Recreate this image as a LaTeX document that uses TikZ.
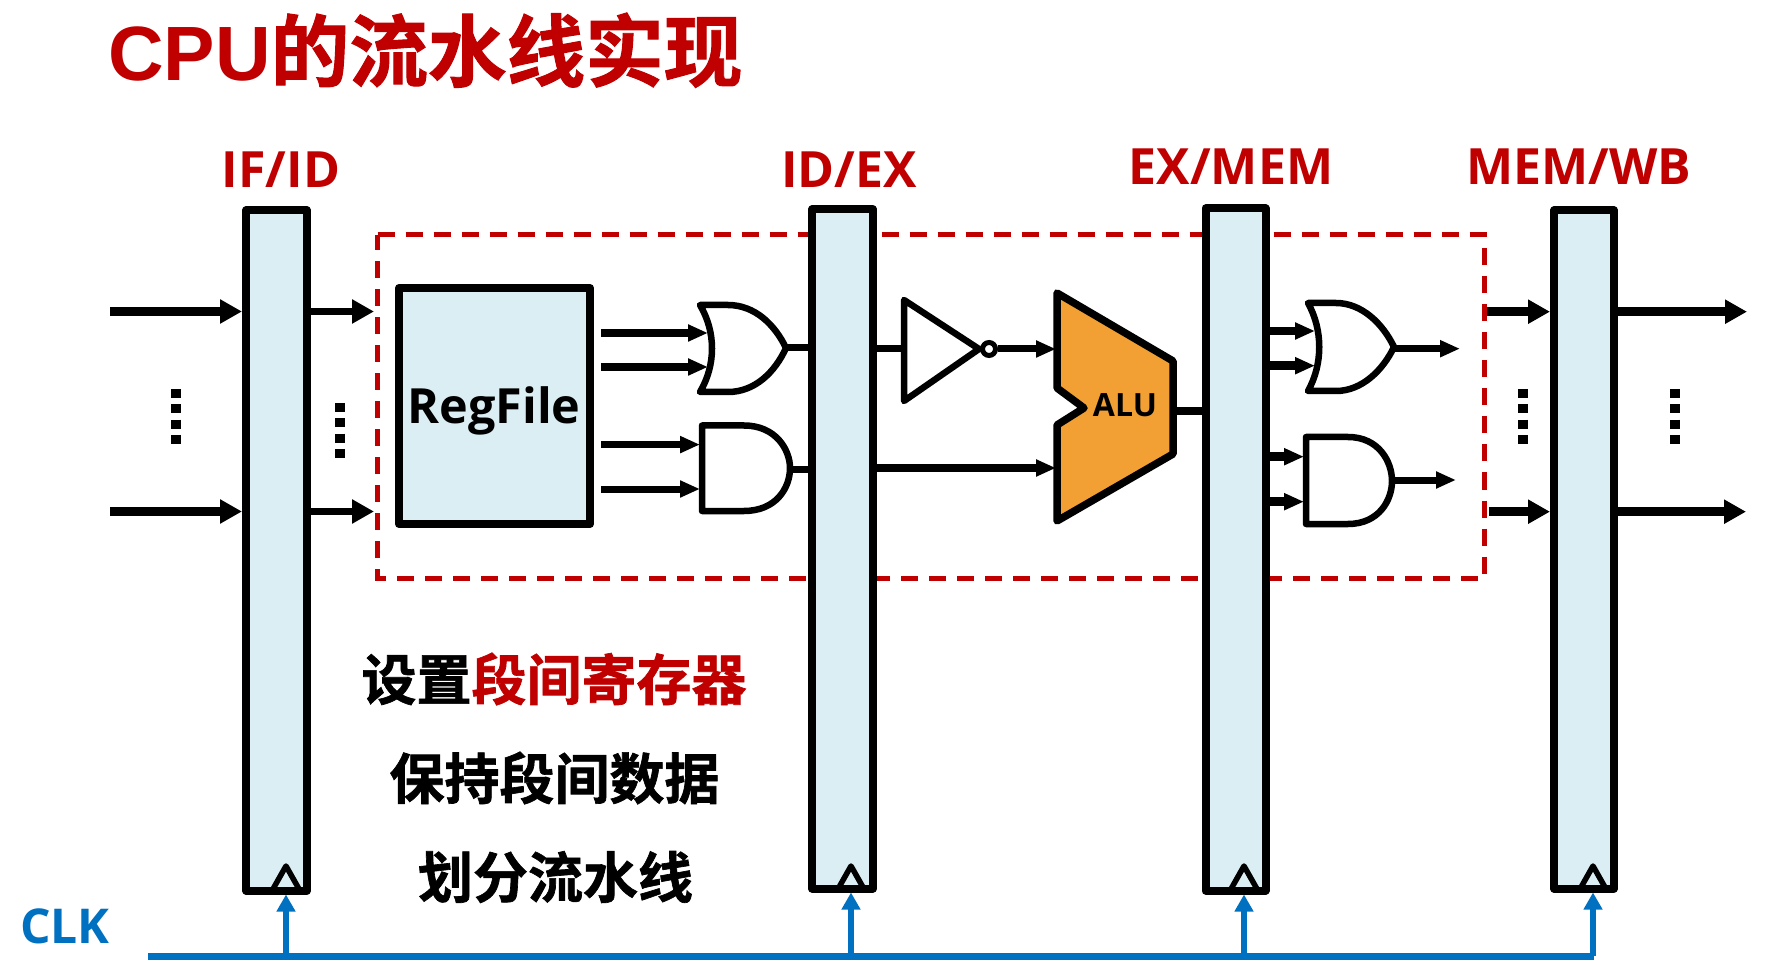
\documentclass[tikz,border=0pt]{standalone}
\usepackage{fontspec}
\usetikzlibrary{arrows.meta,calc}
\setmainfont{Liberation Sans}
\newfontfamily\cjkb[UprightFont=* Bold,FakeBold=1.2]{Noto Sans CJK SC}
\newfontfamily\lat[UprightFont=* Bold]{Open Sans}
\newfontfamily\arialb[UprightFont=* Bold]{Liberation Sans}
\definecolor{pred}{HTML}{C00000}
\definecolor{pblue}{HTML}{0070C0}
\definecolor{plight}{HTML}{DAEEF3}
\definecolor{porange}{HTML}{F2A033}
\tikzset{
  x=1pt,y=-1pt,
  reg/.style={draw=black,fill=plight,line width=8pt,rectangle,inner sep=0pt,line join=round},
  gate/.style={draw=black,line width=6.5pt,line join=round},
  bigarrow/.style={draw=black,line width=9pt,-{Triangle[length=22pt,width=23pt]}},
  midarrow/.style={draw=black,line width=7pt,-{Triangle[length=22pt,width=23pt]}},
  smallarrow/.style={draw=black,line width=8pt,-{Triangle[length=20pt,width=16pt]}},
  stub/.style={draw=black,line width=7pt},
  clkarrow/.style={draw=pblue,line width=6pt,-{Triangle[length=17pt,width=18pt]}},
  clktri/.style={draw=black,line width=5.5pt,line join=round},
  dotcol/.style={draw=black,line width=10pt,dash pattern=on 9pt off 6.3pt},
  lab/.style={font=\lat\fontsize{50}{50}\selectfont,text=pred,anchor=base,inner sep=0pt},
  cjkt/.style={font=\cjkb\fontsize{55}{55}\selectfont,inner sep=0pt,text=black},
}
\begin{document}
\begin{tikzpicture}
\useasboundingbox (0,0) rectangle (1765,965);
% title
\node[anchor=base west,inner sep=0pt,text=pred] (title) at (108,80.5)
  {\fontsize{77}{77}\selectfont\arialb CPU\cjkb\fontsize{78.6}{78.6}\selectfont 的流水线实现};
% dashed stage box
\draw[pred,line width=5pt,dash pattern=on 17pt off 11pt] (377.5,235) -- (1484,235) -- (1484,578) -- (377.5,578) -- cycle;
% registers
\node[reg,minimum width=61pt,minimum height=680pt] (ifid) at (276.5,550.5) {};
\node[reg,minimum width=60.5pt,minimum height=679pt] (idex) at (842.5,549) {};
\node[reg,minimum width=60pt,minimum height=682pt] (exmem) at (1235.5,549.5) {};
\node[reg,minimum width=60pt,minimum height=678pt] (memwb) at (1584,549.5) {};
% register labels
\node[lab] (l1) at (281,187.5) {IF/ID};
\node[lab] (l2) at (849,187.5) {ID/EX};
\node[lab] (l3) at (1231,185) {EX/MEM};
\node[lab] (l4) at (1579,185) {MEM/WB};
% free ends, first stage
\coordinate (in1) at (110,311.5);
\coordinate (in2) at (110,511.5);
\coordinate (o1) at (374,311.5);
\coordinate (o2) at (374,511.5);
\draw[bigarrow] (in1) -- (ifid.west |- in1);
\draw[bigarrow] (in2) -- (ifid.west |- in2);
\draw[midarrow] (ifid.east |- o1) -- (o1);
\draw[midarrow] (ifid.east |- o2) -- (o2);
% dots
\coordinate (d1a) at (176,389); \coordinate (d1b) at (176,444);
\coordinate (d2a) at (340,403); \coordinate (d2b) at (340,459);
\coordinate (d3a) at (1523,389); \coordinate (d3b) at (1523,444);
\coordinate (d4a) at (1675,389); \coordinate (d4b) at (1675,444);
\draw[dotcol] (d1a) -- (d1b);
\draw[dotcol] (d2a) -- (d2b);
\draw[dotcol] (d3a) -- (d3b);
\draw[dotcol] (d4a) -- (d4b);
% regfile
\node[reg,minimum width=191pt,minimum height=236pt] (rf) at (494.5,406) {};
\node[inner sep=0pt,anchor=base,font=\lat\fontsize{48.5}{48.5}\selectfont] (rft) at (494,423.5) {RegFile};
% OR gate 1
\draw[gate] (700,305) -- (728,305) .. controls (755,305) and (775,325) .. (786,348)
  .. controls (775,372) and (755,392) .. (728,392) -- (700,392) .. controls (716,365) and (716,332) .. (700,305) -- cycle;
% AND gate 1
\draw[gate] (702,425.5) -- (744,425.5) .. controls (776,425.5) and (790,450) .. (790,468)
  .. controls (790,488) and (776,511) .. (744,511) -- (702,511) -- cycle;
\coordinate (g1o) at (786,348);
\coordinate (g2o) at (790,469.5);
\draw[stub] (g1o) -- (idex.west |- g1o);
\draw[stub] (g2o) -- (idex.west |- g2o);
\coordinate (a1s) at (601,333); \coordinate (a1e) at (708,333);
\coordinate (a2s) at (601,367); \coordinate (a2e) at (708,367);
\coordinate (a3s) at (601,444.6); \coordinate (a3e) at (700,444.6);
\coordinate (a4s) at (601,489); \coordinate (a4e) at (700,489);
\draw[smallarrow] (a1s) -- (a1e);
\draw[smallarrow] (a2s) -- (a2e);
\draw[smallarrow,line width=7pt] (a3s) -- (a3e);
\draw[smallarrow,line width=7pt] (a4s) -- (a4e);
% inverter
\draw[gate] (904,300) -- (979,349) -- (904,401) -- cycle;
\node[circle,draw=black,line width=5pt,minimum size=13pt,inner sep=0pt,fill=white] (bub) at (989,349) {};
\coordinate (invin) at (904,349);
\draw[stub] (idex.east |- invin) -- (invin);
% ALU
\draw[draw=black,fill=porange,line width=7.5pt,line join=round]
  (1057,293) -- (1173,361) -- (1173,454) -- (1057,521) -- (1057,425) -- (1084,408) -- (1057,388) -- cycle;
\node[inner sep=0pt,anchor=base,font=\lat\fontsize{32}{32}\selectfont] (alut) at (1125,417) {ALU};
\coordinate (aluin1) at (1056,349);
\coordinate (aluin2) at (1056,468);
\coordinate (aluout) at (1173,411);
\draw[smallarrow,line width=7pt] (bub.east |- aluin1) -- (aluin1);
\draw[smallarrow] (idex.east |- aluin2) -- (aluin2);
\draw[draw=black,line width=8pt] (aluout) -- (exmem.west |- aluout);
% OR gate 2
\draw[gate] (1308,303) -- (1336,303) .. controls (1362,303) and (1383,324) .. (1394,347)
  .. controls (1383,370) and (1362,391) .. (1336,391) -- (1308,391) .. controls (1323,364) and (1323,330) .. (1308,303) -- cycle;
% AND gate 2
\draw[gate] (1306,437) -- (1348,437) .. controls (1379,437) and (1392,462) .. (1392,481)
  .. controls (1392,500) and (1379,524) .. (1348,524) -- (1306,524) -- cycle;
\coordinate (b1) at (1315,331);
\coordinate (b2) at (1315,365.7);
\coordinate (b3) at (1304,456.7);
\coordinate (b4) at (1304,501.7);
\draw[smallarrow,line width=8.5pt] (exmem.east |- b1) -- (b1);
\draw[smallarrow,line width=8.5pt] (exmem.east |- b2) -- (b2);
\draw[smallarrow,line width=8.5pt] (exmem.east |- b3) -- (b3);
\draw[smallarrow,line width=8.5pt] (exmem.east |- b4) -- (b4);
\coordinate (g3s) at (1394,348.7); \coordinate (g3e) at (1460,348.7);
\coordinate (g4s) at (1392,480); \coordinate (g4e) at (1456,480);
\draw[smallarrow,line width=7pt] (g3s) -- (g3e);
\draw[smallarrow,line width=7pt] (g4s) -- (g4e);
% last stage
\coordinate (m1) at (1487,311.7);
\coordinate (m2) at (1489,511.7);
\coordinate (w1) at (1747,311.7);
\coordinate (w2) at (1746,511.7);
\draw[bigarrow] (m1) -- (memwb.west |- m1);
\draw[bigarrow] (m2) -- (memwb.west |- m2);
\draw[bigarrow,line width=9.5pt] (memwb.east |- w1) -- (w1);
\draw[bigarrow,line width=9.5pt] (memwb.east |- w2) -- (w2);
% captions
\node[cjkt] (c1) at (554,679) {设置\textcolor{pred}{段间寄存器}};
\node[cjkt] (c2) at (554.5,778) {保持段间数据};
\node[cjkt] (c3) at (555.5,877) {划分流水线};
% clock
\node[anchor=base west,inner sep=0pt,font=\lat\fontsize{48}{48}\selectfont,text=pblue] (clk) at (20,943) {CLK};
\coordinate (cs) at (148,956);
\coordinate (ce) at (1594,956);
\draw[pblue,line width=7pt] (cs) -- (ce);
\foreach \n/\xx in {ifid/286,idex/851,exmem/1244,memwb/1593}{
  \coordinate (t\n) at (\xx,956);
  \draw[clktri] ($(t\n)+(-13,-67)$) -- ($(t\n)+(0,-90)$) -- ($(t\n)+(13,-67)$);
  \draw[clkarrow] (t\n) -- (\n.south -| t\n);
}
\end{tikzpicture}
\end{document}
